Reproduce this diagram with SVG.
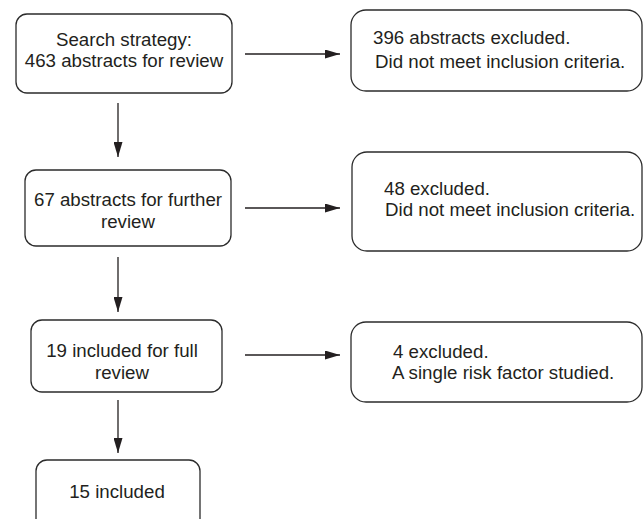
<svg xmlns="http://www.w3.org/2000/svg" width="644" height="519" viewBox="0 0 644 519">
<defs>
<style>
.box{fill:#fff;stroke:#2b2b2b;stroke-width:1.3}
.t{font-family:"Liberation Sans",Arial,sans-serif;font-size:18.7px;fill:#231f20}
.c{text-anchor:middle}
.ln{stroke:#231f20;stroke-width:1.3;fill:none}
</style>
<marker id="ah" viewBox="0 0 15 9" refX="15" refY="4.5" markerWidth="15" markerHeight="9" markerUnits="userSpaceOnUse" orient="auto">
<path d="M0,0 L15,4.5 L0,9 Z" fill="#231f20"/>
</marker>
</defs>
<rect width="644" height="519" fill="#fff"/>
<g id="connectors">
<line class="ln" x1="245" y1="54" x2="340" y2="54" marker-end="url(#ah)"/>
<line class="ln" x1="245" y1="208" x2="340" y2="208" marker-end="url(#ah)"/>
<line class="ln" x1="245" y1="355" x2="340" y2="355" marker-end="url(#ah)"/>
<line class="ln" x1="118" y1="103" x2="118" y2="157" marker-end="url(#ah)"/>
<line class="ln" x1="118" y1="257" x2="118" y2="312" marker-end="url(#ah)"/>
<line class="ln" x1="118" y1="400" x2="118" y2="453" marker-end="url(#ah)"/>
</g>
<g id="n1">
<rect class="box" x="16" y="14" width="216" height="79" rx="11"/>
<text class="t c" x="124" y="46">Search strategy:</text>
<text class="t c" x="124" y="67">463 abstracts for review</text>
</g>
<g id="n2">
<rect class="box" x="25" y="170" width="206" height="76" rx="11"/>
<text class="t c" x="128" y="206">67 abstracts for further</text>
<text class="t c" x="128" y="228">review</text>
</g>
<g id="n3">
<rect class="box" x="31" y="320" width="191" height="72" rx="11"/>
<text class="t c" x="122" y="357">19 included for full</text>
<text class="t c" x="122" y="379">review</text>
</g>
<g id="n4">
<rect class="box" x="36" y="460" width="164" height="75" rx="11"/>
<text class="t c" x="117" y="498">15 included</text>
</g>
<g id="r1">
<rect class="box" x="351" y="10" width="291" height="81" rx="15"/>
<text class="t" x="373" y="44">396 abstracts excluded.</text>
<text class="t" x="375" y="68">Did not meet inclusion criteria.</text>
</g>
<g id="r2">
<rect class="box" x="352" y="152" width="290" height="99" rx="15"/>
<text class="t" x="384" y="195">48 excluded.</text>
<text class="t" x="385" y="216">Did not meet inclusion criteria.</text>
</g>
<g id="r3">
<rect class="box" x="351" y="322" width="291" height="80" rx="15"/>
<text class="t" x="393" y="358">4 excluded.</text>
<text class="t" x="392" y="379">A single risk factor studied.</text>
</g>
</svg>
